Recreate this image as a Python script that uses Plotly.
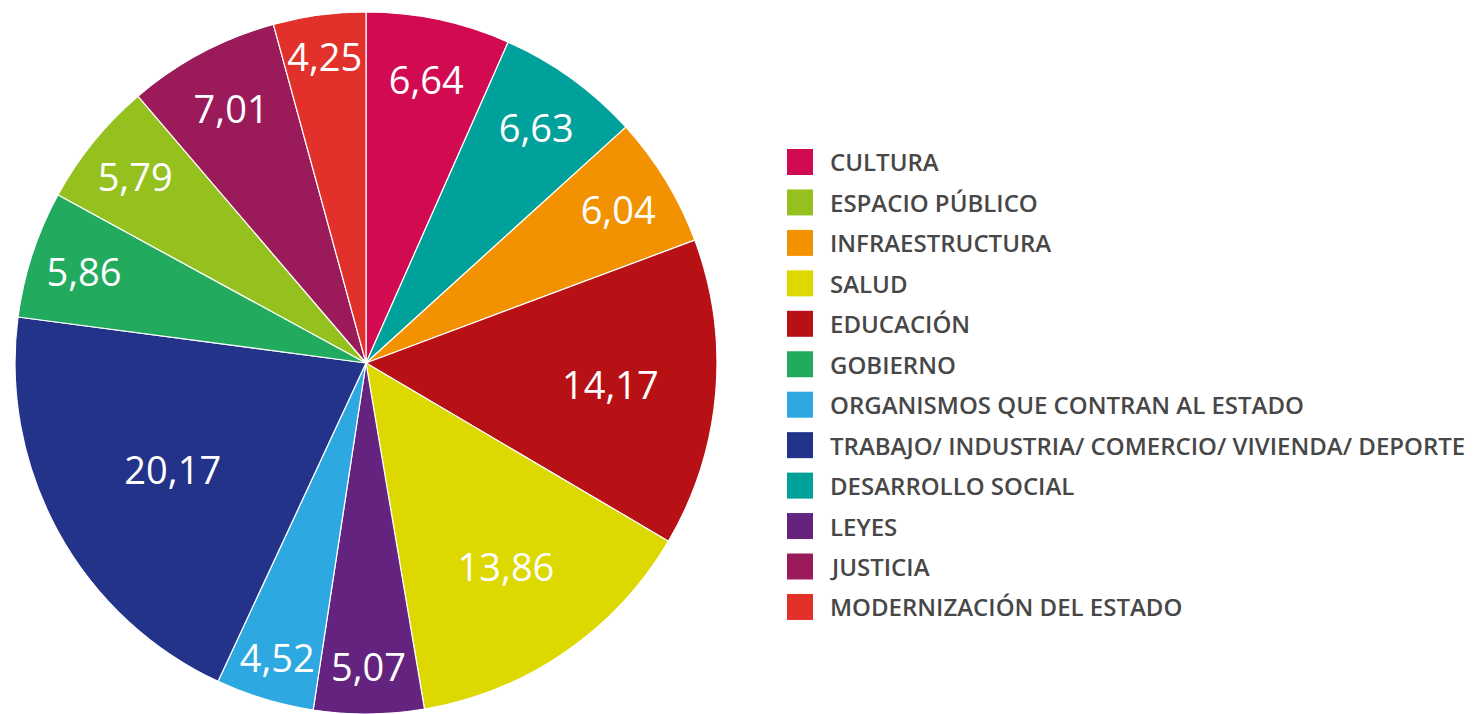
import plotly.graph_objects as go

# Slices, clockwise from 12 o'clock
categories = [
    "CULTURA",
    "DESARROLLO SOCIAL",
    "INFRAESTRUCTURA",
    "EDUCACIÓN",
    "SALUD",
    "LEYES",
    "ORGANISMOS QUE CONTRAN AL ESTADO",
    "TRABAJO/ INDUSTRIA/ COMERCIO/ VIVIENDA/ DEPORTE",
    "GOBIERNO",
    "ESPACIO PÚBLICO",
    "JUSTICIA",
    "MODERNIZACIÓN DEL ESTADO",
]
values = [6.64, 6.63, 6.04, 14.17, 13.86, 5.07, 4.52, 20.17, 5.86, 5.79, 7.01, 4.25]
colors = [
    "#D20A52",
    "#00A19A",
    "#F29200",
    "#B71115",
    "#DDD800",
    "#64237E",
    "#2EA8E0",
    "#24338A",
    "#22AA5F",
    "#95C11F",
    "#9B1A5A",
    "#E2312A",
]

# Legend order as in the reference
legend_order = [
    "CULTURA",
    "ESPACIO PÚBLICO",
    "INFRAESTRUCTURA",
    "SALUD",
    "EDUCACIÓN",
    "GOBIERNO",
    "ORGANISMOS QUE CONTRAN AL ESTADO",
    "TRABAJO/ INDUSTRIA/ COMERCIO/ VIVIENDA/ DEPORTE",
    "DESARROLLO SOCIAL",
    "LEYES",
    "JUSTICIA",
    "MODERNIZACIÓN DEL ESTADO",
]

# page body has an 8px margin, so the figure is sized to fit the window
OFF = 8
W, H = 1480 - OFF, 714 - OFF
color_of = dict(zip(categories, colors))

# pie geometry (page px): centre (366, 363), top edge at y=12
top = 12 - OFF
diam = H - top
cx = 366 - OFF

fig = go.Figure()
fig.add_trace(go.Pie(
    labels=categories,
    values=values,
    sort=False,
    direction="clockwise",
    rotation=0,
    marker=dict(colors=colors, line=dict(color="white", width=1.2)),
    texttemplate="%{value:.2f}",
    textposition="inside",
    insidetextorientation="horizontal",
    textfont=dict(family="Open Sans", size=38, color="white"),
    domain=dict(x=[(cx - diam / 2) / W, (cx + diam / 2) / W], y=[0, 1 - top / H]),
    showlegend=False,
    hoverinfo="label+value",
))

# Custom legend (large swatches)
shapes = []
annotations = []
y0, step, sw = 162.0 - OFF, 40.45, 26
sx, tx = 787 - OFF, 828 - OFF
for i, name in enumerate(legend_order):
    yc = y0 + i * step
    shapes.append(dict(
        type="rect", xref="paper", yref="paper",
        x0=sx / W, x1=(sx + sw) / W,
        y0=1 - (yc - sw / 2) / H, y1=1 - (yc + sw / 2) / H,
        fillcolor=color_of[name], line=dict(width=0),
    ))
    annotations.append(dict(
        x=tx / W, y=1 - yc / H, xref="paper", yref="paper",
        xanchor="left", yanchor="middle", showarrow=False,
        text=name,
        font=dict(family="Open Sans", size=24, color="#474747", weight=600),
    ))

fig.update_layout(
    width=W, height=H,
    margin=dict(l=0, r=0, t=0, b=0),
    paper_bgcolor="white",
    plot_bgcolor="white",
    separators=",.",
    uniformtext=dict(minsize=38, mode="show"),
    shapes=shapes,
    annotations=annotations,
)

fig.write_html("out.html")
